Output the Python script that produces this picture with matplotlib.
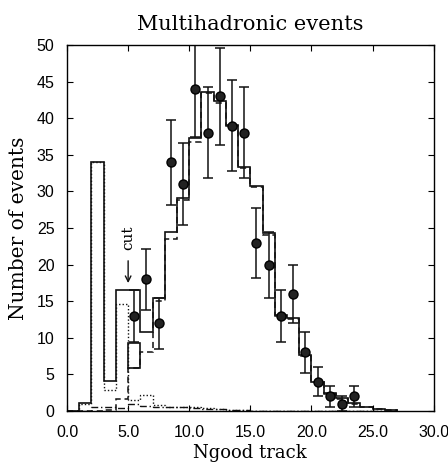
import numpy as np
import matplotlib.pyplot as plt

# bin edges of the track multiplicity histograms (unit bins)
edges = np.arange(0, 28)

# Monte Carlo expectation, total (solid)
mc_total = [0, 1.1, 34.0, 4.1, 16.6, 16.6, 10.8, 15.5, 24.4, 29.1, 37.3, 43.6, 42.3,
            39.1, 33.4, 30.8, 24.3, 13.1, 12.7, 7.6, 4.0, 2.4, 1.8, 1.05, 0.6, 0.3, 0.1]
# multihadronic component (dashed)
mc_hadronic = [0, 0, 0, 0.2, 1.6, 5.9, 8.0, 15.0, 23.5, 28.8, 36.8, 43.4, 42.1,
               38.9, 33.2, 30.6, 24.1, 13.0, 12.6, 7.5, 3.9, 2.3, 1.7, 1.0, 0.5, 0.3, 0.1]
# low multiplicity background (dotted)
mc_lowmult = [0, 1.0, 34.0, 2.9, 14.6, 1.5, 2.2, 0.8, 0.6, 0.5, 0.5, 0.4, 0.3,
              0.2, 0.2, 0, 0, 0, 0, 0, 0, 0, 0, 0, 0, 0, 0]
# beam-gas / tau background (dash-dot)
mc_other = [0, 0, 0.6, 0.6, 0.4, 0.9, 0.7, 0.6, 0.5, 0.6, 0.4, 0.3, 0.3,
            0.2, 0.1, 0, 0, 0, 0, 0, 0, 0, 0, 0, 0, 0, 0]

# alternative prediction in the bin just above the cut
box_low = 5.9
box_high = 9.3

# data
ntrk = [5.5, 6.5, 7.5, 8.5, 9.5, 10.5, 11.5, 12.5, 13.5, 14.5, 15.5, 16.5,
        17.5, 18.5, 19.5, 20.5, 21.5, 22.5, 23.5]
nevt = [13, 18, 12, 34, 31, 44, 38, 43, 39, 38, 23, 20, 13, 16, 8, 4, 2, 1, 2]
nerr = [3.6, 4.2, 3.5, 5.8, 5.6, 6.6, 6.2, 6.6, 6.2, 6.2, 4.8, 4.5, 3.6, 4.0,
        2.8, 2.0, 1.4, 1.0, 1.4]

cut_pos = 5.0

serif = 'DejaVu Serif'
fig = plt.figure(figsize=(4.48, 4.66), dpi=100)
ax = fig.add_axes([0.1496, 0.118, 0.8185, 0.7854])

lc = '#111111'
ax.stairs(mc_total, edges, color=lc, lw=1.2, ls='-')
ax.stairs(mc_hadronic, edges, color=lc, lw=1.1, ls=(0, (4, 2.5)))
ax.stairs(mc_lowmult, edges, color=lc, lw=1.0, ls=(0, (1, 1.5)))
ax.stairs(mc_other, edges, color=lc, lw=1.0, ls=(0, (5, 2, 1, 2)))
ax.bar(cut_pos, box_high - box_low, bottom=box_low, width=1, align='edge',
       fill=False, edgecolor=lc, lw=1.2)

ax.errorbar(ntrk, nevt, yerr=nerr, fmt='o', color=lc, ms=6.5,
            mfc='#222222', mec='#000000', elinewidth=1.1, capsize=3.5, capthick=1.1)
ax.plot(ntrk, nevt, ls='none', marker='x', ms=3, color='#777777', mew=0.8)

# selection cut marker
ax.annotate('', xy=(cut_pos, 17.1), xytext=(cut_pos, 20.9),
            arrowprops=dict(arrowstyle='->', color=lc, lw=1.0))
ax.text(cut_pos + 0.05, 23.7, 'cut', rotation=90, ha='center', va='center',
        family=serif, fontsize=11)

ax.set_xlim(0, 30)
ax.set_ylim(0, 50)
ax.set_xticks(np.arange(0, 31, 5))
ax.set_xticklabels(['%.1f' % v for v in np.arange(0, 31, 5)])
ax.set_yticks(np.arange(0, 51, 5))
ax.tick_params(direction='in', top=True, right=True, length=4, width=0.8,
               labelsize=11.5)
ax.tick_params(axis='x', pad=10)
ax.tick_params(axis='y', pad=9)
for lab in ax.get_xticklabels() + ax.get_yticklabels():
    lab.set_family('Liberation Sans')
for s in ax.spines.values():
    s.set_linewidth(1.0)

ax.set_title('Multihadronic events', family=serif, fontsize=15, pad=11)
ax.set_xlabel('Ngood track', family=serif, fontsize=13, labelpad=3)
ax.set_ylabel('Number of events', family=serif, fontsize=14.5, labelpad=6)

fig.savefig('out.png', dpi=100)
